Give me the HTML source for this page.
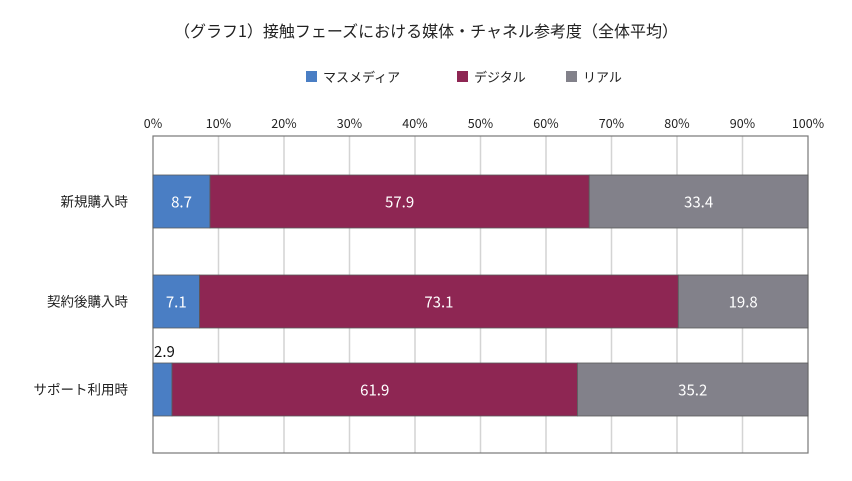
<!DOCTYPE html>
<html><head><meta charset="utf-8"><style>
body{margin:0;background:#fff;font-family:"Noto Sans CJK JP","Liberation Sans",sans-serif}
svg text{font-family:"Noto Sans CJK JP","Liberation Sans",sans-serif}
</style></head><body>
<svg id="c" width="852" height="476">
<text x="426" y="37" text-anchor="middle" font-size="16" fill="#222">（グラフ1）接触フェーズにおける媒体・チャネル参考度（全体平均）</text>
<g id="legend"></g>
<g id="grid"></g><g id="bars"></g><g id="labels"></g>
</svg>
<script>
const categories=["新規購入時","契約後購入時","サポート利用時"];
const series=["マスメディア","デジタル","リアル"];
const massMedia=[8.7,7.1,2.9];
const digital=[57.9,73.1,61.9];
const real=[33.4,19.8,35.2];
const ticks=[0,10,20,30,40,50,60,70,80,90,100];
const colors=["#4a7ec4","#8e2653","#82818a"];
const L=153,R=808,T=136,B=453;
const barTops=[175,275,363],barH=53;
const x=v=>L+(R-L)*v/100;
const ns="http://www.w3.org/2000/svg";
function mk(t,a,p){const e=document.createElementNS(ns,t);for(const k in a)e.setAttribute(k,a[k]);document.getElementById(p).appendChild(e);return e;}
const lx=[306,457,566];
series.forEach((s,i)=>{
 const r=mk("rect",{x:lx[i],y:71,width:11,height:11,fill:colors[i]},"legend");
 
 
 const t=mk("text",{x:lx[i]+17,y:82,"font-size":"13",fill:"#222"},"legend");t.textContent=s;
 
 
});
ticks.forEach(v=>{
 if(v>0&&v<100){const g=mk("line",{x1:x(v),x2:x(v),y1:T,y2:B,stroke:"#d4d4d4","stroke-width":"1.5"},"grid");
 
 }
 const t=mk("text",{x:x(v),y:128,"text-anchor":"middle","font-size":"12.5",fill:"#222"},"grid");t.textContent=v+"%";
 
 
});
const fr=mk("rect",{x:L,y:T,width:R-L,height:B-T,fill:"none",stroke:"#777","stroke-width":"1.2"},"grid");


const data=[massMedia,digital,real];
categories.forEach((c,i)=>{
 const y=barTops[i];let acc=0;
 const cl=mk("text",{x:128,y:y+barH/2+5,"text-anchor":"end","font-size":"13.5",fill:"#222"},"labels");cl.textContent=c;
 
 
 data.forEach((arr,s)=>{
  const v=arr[i];
  const r=mk("rect",{x:x(acc),y:y,width:x(acc+v)-x(acc),height:barH,fill:colors[s],stroke:"#5a5a5a","stroke-width":"0.8"},"bars");
  
  
  const w=x(acc+v)-x(acc);
  let t;
  if(w<30){t=mk("text",{x:x(acc)+1,y:y-6,"font-size":"15",fill:"#111"},"labels");}
  else{t=mk("text",{x:(x(acc)+x(acc+v))/2,y:y+barH/2+6,"text-anchor":"middle","font-size":"15",fill:"#fff"},"labels");}
  t.textContent=v.toFixed(1);
  
  
  acc+=v;
 });
});
</script>
</body></html>
